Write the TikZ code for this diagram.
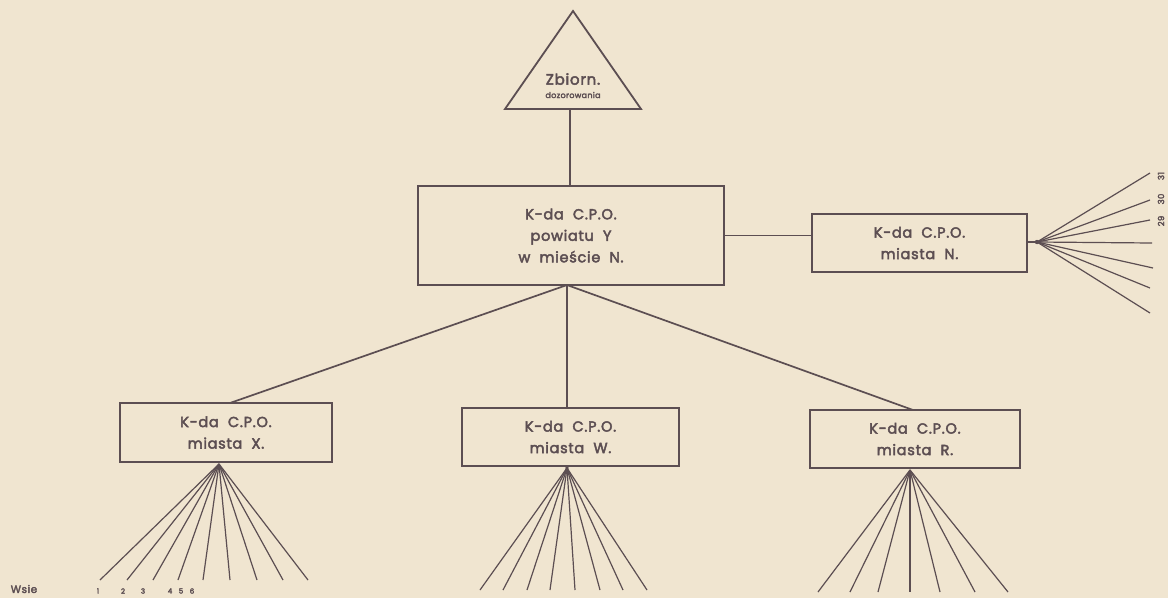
\documentclass[tikz,border=0pt]{standalone}
\usepackage{fontspec}
\setmainfont{Poppins}
\newfontfamily\boxfont{Poppins}[FakeBold=3,LetterSpace=5,WordSpace=2]
\newfontfamily\smallfont{Poppins}[FakeBold=3,LetterSpace=4]
\definecolor{paper}{RGB}{240,229,208}
\definecolor{ink}{RGB}{92,78,82}
\begin{document}
\begin{tikzpicture}[x=1pt,y=-1pt,
  orgbox/.style={draw=ink,line width=1.8pt,rectangle,inner sep=0pt,align=center,
    text=ink,font=\boxfont\fontsize{14.5}{21.5}\selectfont},
  link/.style={draw=ink,line width=1.7pt},
  ray/.style={draw=ink,line width=1.2pt},
  lbl/.style={text=ink,inner sep=0pt}]
\fill[paper] (0,0) rectangle (1168,598);
\useasboundingbox (0,0) rectangle (1168,598);
% triangle
\draw[ink,line width=1.8pt,line join=miter] (573,11) -- (641,109) -- (505,109) -- cycle;
\node[lbl,font=\boxfont\fontsize{15}{15}\selectfont] (tz) at (573,79) {Zbiorn.};
\node[lbl,font=\smallfont\fontsize{8}{8}\selectfont] (td) at (573,95) {dozorowania};
\coordinate (tb) at (570,109);
% boxes
\node[orgbox,minimum width=306pt,minimum height=99pt] (main) at (571,235.5) {K-da C.P.O.\\powiatu Y\\w mieście N.};
\node[orgbox,minimum width=215pt,minimum height=58pt] (bn) at (919.5,243) {K-da C.P.O.\\miasta N.};
\node[orgbox,minimum width=212pt,minimum height=59pt] (bx) at (226,432.5) {K-da C.P.O.\\miasta X.};
\node[orgbox,minimum width=217pt,minimum height=58pt] (bw) at (570.5,437) {K-da C.P.O.\\miasta W.};
\node[orgbox,minimum width=210pt,minimum height=58pt] (br) at (915,439) {K-da C.P.O.\\miasta R.};
% connectors
\draw[link] (tb) -- (tb |- main.north);
\draw[link] (main.east) -- (main.east -| bn.west);
\coordinate (mb) at (567,285);
\draw[link] (mb) -- (230,403) coordinate (xt);
\draw[link] (mb) -- (mb |- bw.north);
\draw[link] (mb) -- (913,410) coordinate (rt);
% fans
\coordinate (fx) at (219,464);
\foreach \x [count=\i] in {100,127,153,178,203,230,257,283,308}
  {\coordinate (ex\i) at (\x,580); \draw[ray] (fx) -- (ex\i);}
\coordinate (fw) at (567,468);
\foreach \x [count=\i] in {480,503,527,550,575,600,623,647}
  {\coordinate (ew\i) at (\x,590); \draw[ray] (fw) -- (ew\i);}
\coordinate (fr) at (910,470);
\foreach \x [count=\i] in {818,850,878,910,940,975,1008}
  {\coordinate (er\i) at (\x,592); \draw[ray] (fr) -- (er\i);}
\coordinate (fn) at (1037,242);
\draw[ray] (bn.east |- fn) -- (fn);
\foreach \x/\y [count=\i] in {1150/173,1150/200,1150/220,1152/243,1153/268,1150/288,1150/313}
  {\coordinate (en\i) at (\x,\y); \draw[ray] (fn) -- (en\i);}
\fill[ink] (fn) circle (2.2pt);
\fill[ink] (fw) circle (1.8pt);
% labels
\node[lbl,font=\smallfont\fontsize{8.5}{8}\selectfont,rotate=90] (n31) at (1161,176) {31};
\node[lbl,font=\smallfont\fontsize{8.5}{8}\selectfont,rotate=90] (n30) at (1161,199) {30};
\node[lbl,font=\smallfont\fontsize{8.5}{8}\selectfont,rotate=90] (n29) at (1161,221) {29};
\node[lbl,font=\boxfont\fontsize{10.5}{11}\selectfont] (wsie) at (24,589) {Wsie};
\foreach \x/\t [count=\i] in {98/1,123/2,143/3,170/4,181/5,192/6}
  \node[lbl,font=\smallfont\fontsize{7}{7}\selectfont] (nb\i) at (\x,591) {\t};
\end{tikzpicture}
\end{document}
